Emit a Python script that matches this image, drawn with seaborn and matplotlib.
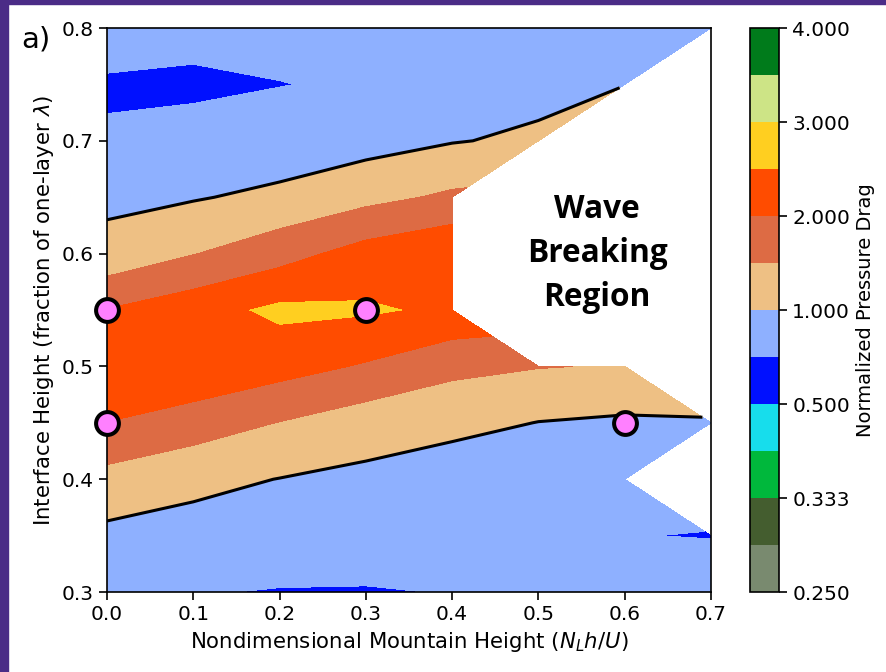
import numpy as np
import matplotlib
matplotlib.use("Agg")
import matplotlib.pyplot as plt
from matplotlib.patches import Rectangle
import seaborn as sns

# Grid of nondimensional mountain heights and interface heights
mountain_height = [0.0, 0.1, 0.2, 0.3, 0.4, 0.5, 0.6, 0.7]
interface_height = [0.30, 0.35, 0.40, 0.45, 0.50, 0.55, 0.60, 0.65, 0.70, 0.75, 0.80]

nan = np.nan
# Normalized pressure drag, one row per interface height (NaN = wave breaking)
drag_030 = [0.800, 0.687, 0.647, 0.638, 0.680, 0.800, 0.780, 0.900]
drag_035 = [0.885, 0.810, 0.900, 0.900, 0.850, 0.850, 0.677, 0.652]
drag_040 = [1.328, 1.127, 0.990, 0.891, 0.700, 0.850, 0.850, nan]
drag_045 = [1.994, 1.749, 1.486, 1.230, 1.150, 0.989, 0.923, 0.948]
drag_050 = [2.300, 2.420, 2.190, 1.951, 1.618, 1.520, 1.470, nan]
drag_055 = [2.020, 2.300, 2.605, 2.560, 2.414, nan, nan, nan]
drag_060 = [1.153, 1.483, 1.806, 2.203, 2.450, nan, nan, nan]
drag_065 = [0.898, 0.964, 1.111, 1.358, 1.585, nan, nan, nan]
drag_070 = [0.710, 0.797, 0.700, 0.816, 0.975, 1.079, nan, nan]
drag_075 = [0.620, 0.600, 0.665, 0.675, 0.850, 0.860, 0.995, nan]
drag_080 = [0.855, 0.786, 0.690, 0.750, 0.850, 0.850, 0.850, 0.850]

# Contour levels (symmetric about 1 in ratio) and their colours
levels = [0.25, 1 / 3.5, 1 / 3, 1 / 2.5, 0.5, 1 / 1.5, 1.0, 1.5, 2.0, 2.5, 3.0, 3.5, 4.0]
level_colors = ["#798a6f", "#445d2f", "#00b83c", "#17ddec", "#0010ff", "#8eb0ff",
                "#eec084", "#dd6b44", "#ff4c00", "#ffcf20", "#cde486", "#007b1b"]
cbar_ticks = [0.25, 1 / 3, 0.5, 1.0, 2.0, 3.0, 4.0]

# Highlighted simulations
case_x = [0.0, 0.0, 0.3, 0.6]
case_y = [0.55, 0.45, 0.55, 0.45]

sns.set_style("ticks")
plt.rcParams["font.family"] = ["DejaVu Sans"]
plt.rcParams["mathtext.fontset"] = "dejavusans"
for key in ["text.color", "axes.labelcolor", "xtick.color", "ytick.color", "axes.edgecolor"]:
    plt.rcParams[key] = "black"

drag = np.ma.masked_invalid(np.array([drag_030, drag_035, drag_040, drag_045, drag_050,
                                      drag_055, drag_060, drag_065, drag_070, drag_075,
                                      drag_080]))
X, Y = np.meshgrid(mountain_height, interface_height)

fig = plt.figure(figsize=(8.87, 6.72), dpi=100)
ax = fig.add_axes([0.1206, 0.119, 0.681, 0.8393])
cax = fig.add_axes([0.8455, 0.119, 0.0327, 0.8393])

cf = ax.contourf(X, Y, drag, levels=levels, colors=level_colors)
ax.contour(X, Y, drag, levels=[1.0], colors="black", linewidths=2.2)

sns.scatterplot(x=case_x, y=case_y, ax=ax, s=270, color="#ff80ff",
                edgecolor="black", linewidth=2.9, zorder=10, legend=False)
for coll in ax.collections[-1:]:
    coll.set_clip_on(False)

ax.text(0.568, 0.600, "Wave\nBreaking\nRegion", ha="center", va="center",
        fontsize=22.8, fontweight="bold", family=["Open Sans", "DejaVu Sans"],
        linespacing=1.45, color="black")

ax.set_xlim(0, 0.7)
ax.set_ylim(0.3, 0.8)
ax.set_xticks(np.arange(0, 0.71, 0.1))
ax.set_yticks(np.arange(0.3, 0.81, 0.1))
ax.tick_params(labelsize=14.5, length=6, width=1.2, color="black", labelcolor="black")
for sp in ax.spines.values():
    sp.set_visible(True)
    sp.set_color("black")
    sp.set_linewidth(1.2)
ax.set_xlabel(r"Nondimensional Mountain Height ($N_Lh/U$)", fontsize=15.3, color="black")
ax.set_ylabel(r"Interface Height (fraction of one-layer $\lambda$)", fontsize=15.3,
              color="black")

cb = fig.colorbar(cf, cax=cax, ticks=cbar_ticks, format="%.3f")
cb.ax.tick_params(labelsize=14.5, length=6, width=1.2, color="black", labelcolor="black")
cb.outline.set_linewidth(1.2)
cb.outline.set_edgecolor("black")
cb.set_label("Normalized Pressure Drag", fontsize=14, color="black")

fig.text(0.024, 0.962, "a)", fontsize=21, va="top", ha="left", color="black")

# Purple frame along the left and top edges
fig.patches.append(Rectangle((0, 0), 8 / 887, 1, transform=fig.transFigure,
                             color="#4b2c87", zorder=100))
fig.patches.append(Rectangle((0, 1 - 4 / 672), 1, 4 / 672, transform=fig.transFigure,
                             color="#4b2c87", zorder=100))

fig.savefig("out.png", dpi=100)
